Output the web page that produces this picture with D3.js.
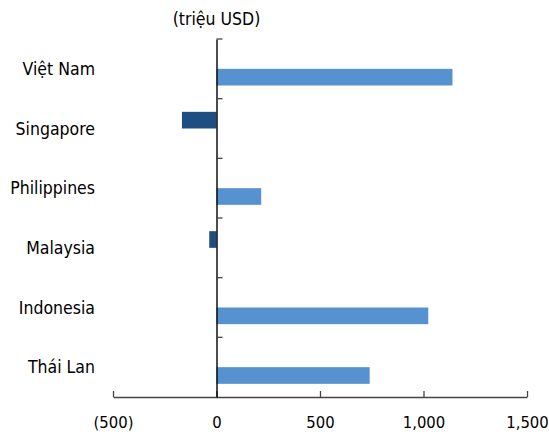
<!DOCTYPE html>
<html>
<head>
<meta charset="utf-8">
<script src="https://cdn.jsdelivr.net/npm/d3@7"></script>
<style>
  html, body { margin: 0; padding: 0; background: #fff; }
  svg text { font-family: "DejaVu Sans Condensed", "DejaVu Sans", sans-serif; font-stretch: condensed; fill: #000; }
</style>
</head>
<body>
<svg id="chart" width="549" height="432"></svg>
<script>
// Net investment flows by country (million USD)
const categories = ["Việt Nam", "Singapore", "Philippines", "Malaysia", "Indonesia", "Thái Lan"];
const values = [1140, -167, 216, -35, 1023, 740];
const xTicks = [-500, 0, 500, 1000, 1500];
const tickLabels = ["(500)", "0", "500", "1,000", "1,500"];
const unitLabel = "(triệu USD)";
// Two series share each row: outflows drawn in the upper slot, inflows in the lower one
const seriesKeys = ["outflow", "inflow"];
const seriesColors = { inflow: "#5692cf", outflow: "#1f4e82" };

const svg = d3.select("#chart");
const margin = { top: 39, right: 22, bottom: 35, left: 113 };
const width = 549 - margin.left - margin.right;
const height = 432 - margin.top - margin.bottom;
const fontSize = "17.5px";

const x = d3.scaleLinear().domain([-500, 1500]).range([0, width]);
const y = d3.scaleBand().domain(categories).range([0, height]).padding(0);
const ySub = d3.scaleBand().domain(seriesKeys).range([0, y.bandwidth()])
  .paddingInner(0).paddingOuter(0.79);

const g = svg.append("g").attr("transform", `translate(${margin.left},${margin.top})`);

// Bars
g.selectAll("rect.bar")
  .data(categories.map((c, i) => ({ c, v: values[i], key: values[i] < 0 ? "outflow" : "inflow" })))
  .join("rect")
  .attr("class", "bar")
  .attr("x", d => x(Math.min(0, d.v)))
  .attr("width", d => Math.abs(x(d.v) - x(0)))
  .attr("y", d => y(d.c) + ySub(d.key))
  .attr("height", ySub.bandwidth())
  .attr("fill", d => seriesColors[d.key]);

// Bottom value axis
const xAxis = g.append("g")
  .attr("transform", `translate(0,${height})`)
  .call(d3.axisBottom(x).tickValues(xTicks).tickSizeInner(-6).tickSizeOuter(0)
    .tickFormat((d, i) => tickLabels[i]));
xAxis.select(".domain").attr("stroke", "#444").attr("stroke-width", 1.3);
xAxis.selectAll(".tick line").attr("stroke", "#444").attr("stroke-width", 1.3);
xAxis.selectAll(".tick text").attr("dy", null).attr("y", 31)
  .style("font-size", "16.5px");

// Category axis at zero
const yAxis = g.append("g")
  .attr("transform", `translate(${x(0)},0)`)
  .call(d3.axisRight(y).tickSize(0).tickFormat(""));
yAxis.select(".domain").attr("stroke", "#000").attr("stroke-width", 1.4);
yAxis.selectAll(".tick").remove();

// Separator ticks between rows
const bounds = d3.range(categories.length + 1).map(i => i * y.step());
g.selectAll("line.sep")
  .data(bounds.slice(0, -1))
  .join("line")
  .attr("class", "sep")
  .attr("x1", x(0)).attr("x2", x(0) + 6)
  .attr("y1", d => d).attr("y2", d => d)
  .attr("stroke", "#444").attr("stroke-width", 1.3);

// Category labels
svg.selectAll("text.cat")
  .data(categories)
  .join("text")
  .attr("class", "cat")
  .attr("x", 95)
  .attr("y", d => margin.top + y(d) + y.bandwidth() / 2)
  .attr("dy", "0.36em")
  .attr("text-anchor", "end")
  .style("font-size", fontSize)
  .text(d => d);

// Unit label
svg.append("text")
  .attr("x", margin.left + x(0))
  .attr("y", 25)
  .attr("text-anchor", "middle")
  .style("font-size", fontSize)
  .text(unitLabel);
</script>
</body>
</html>
